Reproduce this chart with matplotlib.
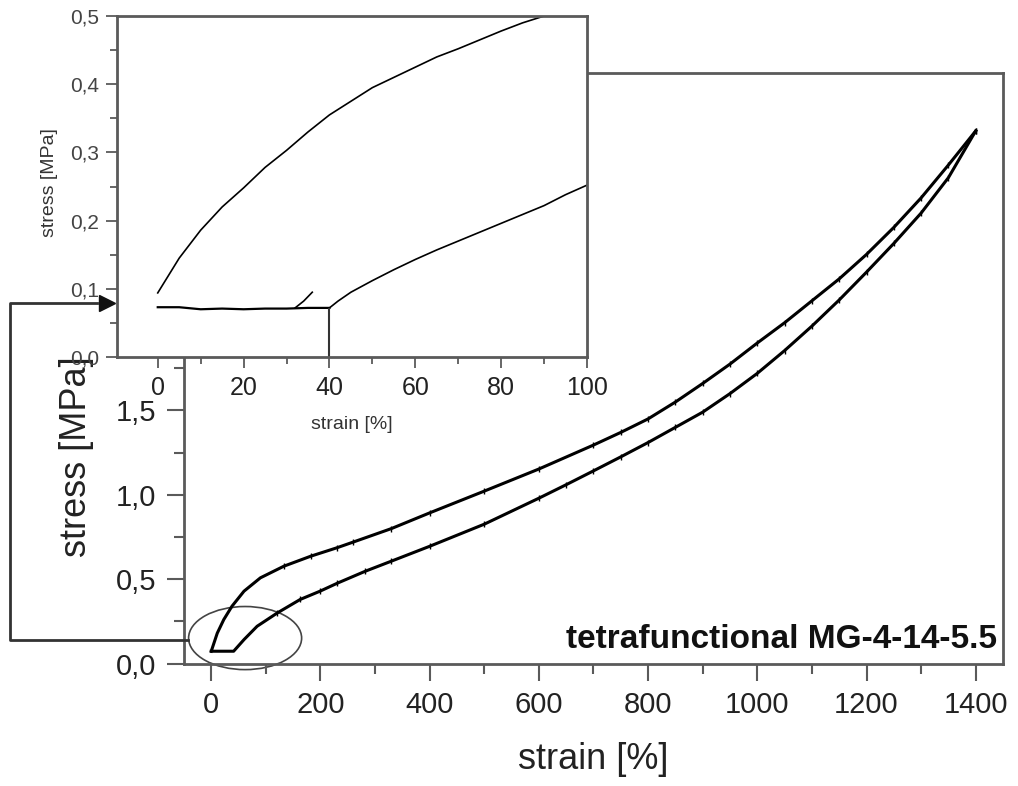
import matplotlib
matplotlib.use("Agg")
import matplotlib.pyplot as plt
from matplotlib.ticker import MultipleLocator, FuncFormatter
from matplotlib.patches import Ellipse
from matplotlib.lines import Line2D

plt.rcParams['font.family'] = ['Liberation Sans', 'DejaVu Sans']

# main chart: loading / unloading loop
upper_strain = [0, 11, 23, 38, 60, 90, 133, 182, 230, 260, 330, 400, 500, 600, 700, 750, 800,
                850, 900, 950, 1000, 1050, 1100, 1150, 1200, 1250, 1300, 1350, 1400]
upper_stress = [0.073, 0.18, 0.261, 0.34, 0.429, 0.508, 0.577, 0.636, 0.686, 0.72, 0.80, 0.893, 1.022,
                1.153, 1.295, 1.37, 1.45, 1.55, 1.66, 1.775, 1.90, 2.02, 2.15, 2.28, 2.425, 2.585,
                2.76, 2.955, 3.157]
lower_strain = [0, 41, 60, 84, 121, 163, 200, 230, 282, 330, 400, 500, 600, 650, 700, 750, 800,
                850, 900, 950, 1000, 1050, 1100, 1150, 1200, 1250, 1300, 1350, 1400]
lower_stress = [0.073, 0.073, 0.142, 0.221, 0.30, 0.38, 0.43, 0.475, 0.547, 0.607, 0.695, 0.826,
                0.98, 1.06, 1.142, 1.225, 1.31, 1.40, 1.49, 1.60, 1.72, 1.855, 2.0, 2.155, 2.32,
                2.49, 2.67, 2.88, 3.157]

# inset: first 100 % of strain
in_upper_strain = [0, 5, 10, 15, 20, 25, 30, 35, 40, 45, 50, 55, 60, 65, 70, 75, 80, 85, 90]
in_upper_stress = [0.094, 0.145, 0.186, 0.22, 0.248, 0.278, 0.303, 0.33, 0.355, 0.375, 0.395, 0.41, 0.425, 0.44, 0.452, 0.465, 0.478, 0.49, 0.5]
in_flat_strain = [0, 5, 10, 15, 20, 25, 30, 35, 40]
in_flat_stress = [0.073, 0.073, 0.070, 0.071, 0.070, 0.071, 0.071, 0.072, 0.072]
in_branch_strain = [32, 34, 36]
in_branch_stress = [0.072, 0.082, 0.095]
in_lower_strain = [40, 42, 45, 50, 55, 60, 65, 70, 75, 80, 85, 90, 95, 100]
in_lower_stress = [0.072, 0.082, 0.095, 0.112, 0.128, 0.143, 0.157, 0.17, 0.183, 0.196, 0.209, 0.222, 0.238, 0.252]

comma = FuncFormatter(lambda v, p: f"{v:.1f}".replace('.', ','))
spine_col = '#5a5a5a'
text_col = '#222222'

fig = plt.figure(figsize=(10.18, 7.86), dpi=100)

ax = fig.add_axes([0.1807, 0.1558, 0.8046, 0.7513])
ax.plot(upper_strain, upper_stress, color='black', lw=2.2, marker='|', ms=5, mew=1,
        markevery=slice(6, None))
ax.plot(lower_strain, lower_stress, color='black', lw=2.2, marker='|', ms=5, mew=1,
        markevery=slice(4, None))
ax.set_xlim(-50, 1450)
ax.set_ylim(0, 3.5)
ax.xaxis.set_major_locator(MultipleLocator(200))
ax.xaxis.set_minor_locator(MultipleLocator(100))
ax.yaxis.set_major_locator(MultipleLocator(0.5))
ax.yaxis.set_minor_locator(MultipleLocator(0.25))
ax.yaxis.set_major_formatter(comma)
ax.tick_params(which='major', direction='out', length=12, width=1.5, labelsize=21,
               pad=8, colors=spine_col, labelcolor=text_col)
ax.tick_params(which='minor', direction='out', length=7, width=1.5, colors=spine_col)
for s in ax.spines.values():
    s.set_color(spine_col)
    s.set_linewidth(2)
ax.set_xlabel('strain [%]', fontsize=26, color=text_col)
ax.set_ylabel('stress [MPa]', fontsize=26, color=text_col)
ax.xaxis.set_label_coords(0.5, -0.163)
ax.xaxis.label.set_va('center')
ax.yaxis.set_label_coords(-0.1306, 0.35)
ax.yaxis.label.set_va('center')
ax.text(0.9927, 0.026, 'tetrafunctional MG-4-14-5.5', transform=ax.transAxes,
        ha='right', va='baseline', fontsize=24, fontweight='bold', color='#111111')
ax.add_patch(Ellipse((62, 0.151), 207, 0.374, fill=False, lw=1.2,
                     edgecolor='#444444', clip_on=False))

axin = fig.add_axes([0.1149, 0.5458, 0.4617, 0.4338])
axin.set_facecolor('white')
axin.plot(in_upper_strain, in_upper_stress, color='black', lw=1.2)
axin.plot(in_flat_strain, in_flat_stress, color='black', lw=1.6)
axin.plot(in_branch_strain, in_branch_stress, color='black', lw=1.2)
axin.plot(in_lower_strain, in_lower_stress, color='black', lw=1.2)
axin.vlines(in_lower_strain[0], 0, in_lower_stress[0], color='#333333', lw=1.5)
axin.set_xlim(-9.5, 100)
axin.set_ylim(0, 0.5)
axin.xaxis.set_major_locator(MultipleLocator(20))
axin.xaxis.set_minor_locator(MultipleLocator(10))
axin.yaxis.set_major_locator(MultipleLocator(0.1))
axin.yaxis.set_minor_locator(MultipleLocator(0.05))
axin.yaxis.set_major_formatter(comma)
axin.tick_params(axis='x', which='major', direction='out', length=8, width=1.3,
                 labelsize=18, pad=6, colors=spine_col, labelcolor=text_col)
axin.tick_params(axis='y', which='major', direction='out', length=8, width=1.3,
                 labelsize=15, pad=5, colors=spine_col, labelcolor='#444444')
axin.tick_params(which='minor', direction='out', length=5, width=1.3, colors=spine_col)
for s in axin.spines.values():
    s.set_color(spine_col)
    s.set_linewidth(2)
axin.set_xlabel('strain [%]', fontsize=14, color='#333333')
axin.set_ylabel('stress [MPa]', fontsize=14, color='#333333')
axin.xaxis.set_label_coords(0.5, -0.199)
axin.xaxis.label.set_va('center')
axin.yaxis.set_label_coords(-0.1426, 0.513)
axin.yaxis.label.set_va('center')

# connector from the circled region to the inset
fig.add_artist(Line2D([0.1847, 0.0098, 0.0098, 0.095], [0.1858, 0.1858, 0.6145, 0.6145],
                      transform=fig.transFigure, color='#333333', lw=2))
fig.add_artist(Line2D([0.1050], [0.6145], transform=fig.transFigure, marker='>',
                      ms=11, color='#111111', lw=0))

fig.savefig('out.png', dpi=100)
